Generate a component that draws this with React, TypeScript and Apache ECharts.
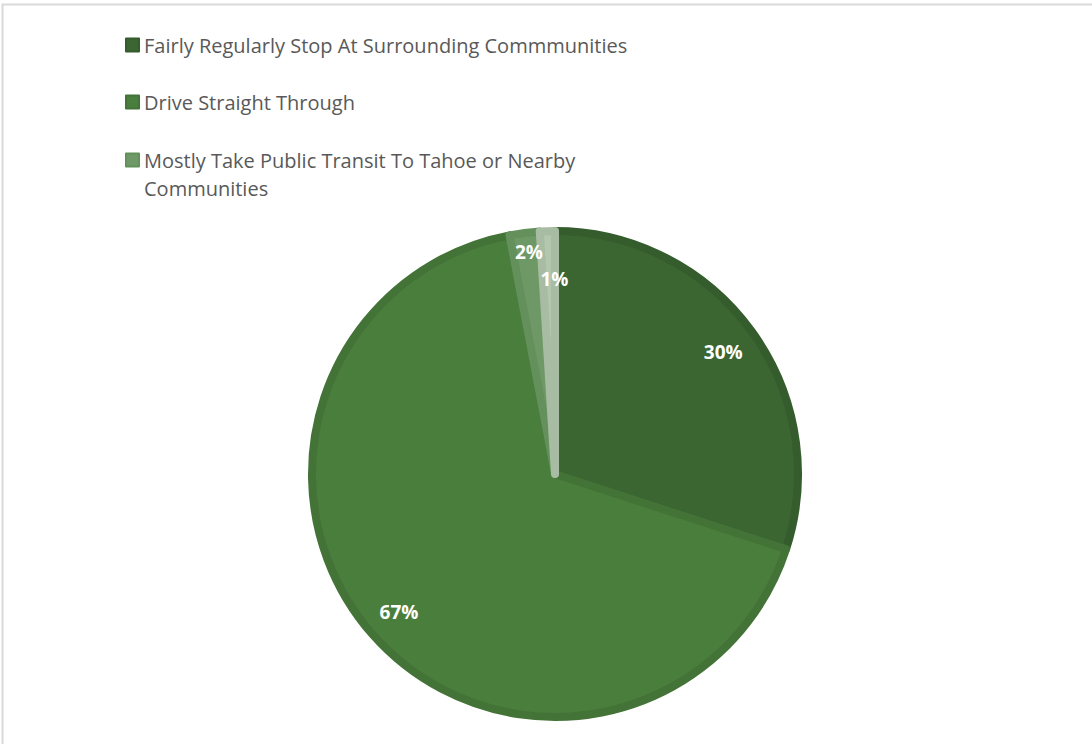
import React, { useEffect, useRef } from "react";
import * as echarts from "echarts";

const categories = [
  "Fairly Regularly Stop At Surrounding Commmunities",
  "Drive Straight Through",
  "Mostly Take Public Transit To Tahoe or Nearby Communities",
  "Other",
];
const values = [30, 67, 2, 1];
const fillColors = ["#3b6631", "#4a7e3d", "#6e9966", "#b3c6ae"];
const borderColors = ["#355c2c", "#437336", "#63905b", "#a7bca2"];
const legendLabels = [
  "Fairly Regularly Stop At Surrounding Commmunities",
  "Drive Straight Through",
  "\nMostly Take Public Transit To Tahoe or Nearby\nCommunities",
];

export default function App() {
  const ref = useRef<HTMLDivElement>(null);
  useEffect(() => {
    if (!ref.current) return;
    const chart = echarts.init(ref.current, null, { renderer: "svg" });
    const FONT = "'Open Sans', sans-serif";
    const legendTops = [31, 88, 118];
    const legends = [0, 1, 2].map((i) => ({
      show: true,
      orient: "vertical",
      left: 125,
      top: legendTops[i],
      padding: 0,
      itemWidth: 13,
      itemHeight: 13,
      itemGap: 0,
      selectedMode: false,
      icon: "rect",
      data: [{ name: categories[i], itemStyle: { color: fillColors[i] } }],
      formatter: () => legendLabels[i],
      textStyle: {
        fontFamily: FONT,
        fontSize: 20,
        color: "#595959",
        lineHeight: 28,
      },
    }));
    const data = values.map((v, i) => ({
      name: categories[i],
      value: v,
      itemStyle: { color: fillColors[i], borderColor: borderColors[i] },
    }));
    chart.setOption({
      animation: false,
      backgroundColor: "#ffffff",
      legend: legends,
      graphic: [
        {
          type: "rect",
          shape: { x: 2.5, y: 4.5, width: 1200, height: 900 },
          style: { fill: "none", stroke: "#d9d9d9", lineWidth: 2 },
          silent: true,
        },
      ],
      series: [
        {
          type: "pie",
          center: [555, 474],
          radius: [0, 243],
          startAngle: 90,
          clockwise: true,
          silent: true,
          itemStyle: { borderWidth: 8 },
          label: { show: false },
          labelLine: { show: false },
          data,
        },
        {
          type: "pie",
          center: [555, 474],
          radius: [168, 242],
          startAngle: 90,
          clockwise: true,
          silent: true,
          z: 5,
          itemStyle: { color: "rgba(0,0,0,0)", borderWidth: 0 },
          label: {
            show: true,
            position: "inside",
            formatter: "{c}%",
            color: "#ffffff",
            fontFamily: FONT,
            fontWeight: "bold",
            fontSize: 19,
          },
          labelLine: { show: false },
          labelLayout: (p: any) => {
            if (p.dataIndex === 2) return { dy: -16 };
            if (p.dataIndex === 3) return { dx: 6, dy: 13 };
            return {};
          },
          data: values.map((v, i) => ({
            name: categories[i],
            value: v,
            itemStyle: { color: "rgba(0,0,0,0)" },
          })),
        },
      ],
    });
    return () => chart.dispose();
  }, []);
  return (
    <div
      ref={ref}
      style={{ position: "fixed", left: 0, top: 0, width: 1092, height: 744 }}
    />
  );
}
